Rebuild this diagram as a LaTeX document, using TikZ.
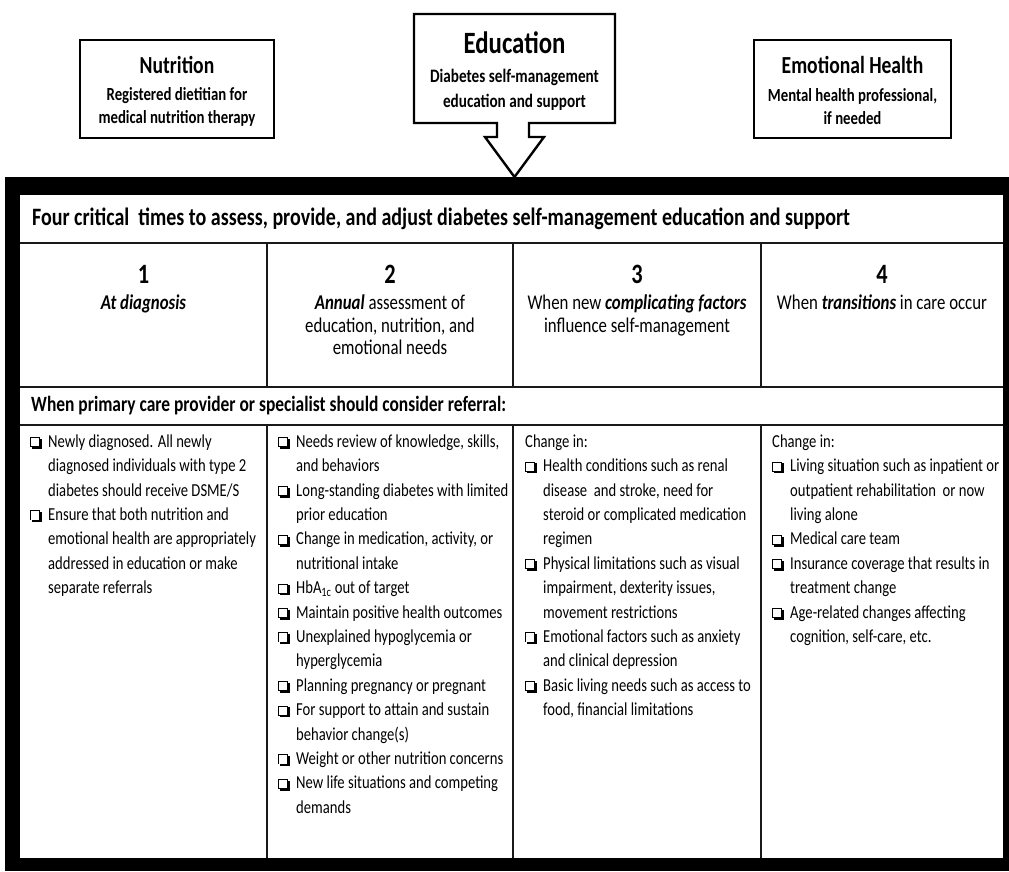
\documentclass[tikz,border=0pt]{standalone}
\usepackage{fontspec}
\setmainfont[FakeStretch=0.8]{Carlito}
% shadowed check box that opens each reason, and the indent of continuation lines
\newcommand\cbx{\makebox[18pt][l]{%
  \rlap{\hspace{1.7pt}\rule[-1.7pt]{10pt}{10pt}}%
  \rlap{\rule{10pt}{10pt}}%
  \rlap{\hspace{0.9pt}\raisebox{0.9pt}{\textcolor{white}{\rule{8.2pt}{8.2pt}}}}}}
\newcommand\ind{\hspace*{18pt}}
\newcommand\bi[1]{\textbf{\textit{#1}}}
\begin{document}
\begin{tikzpicture}[x=1pt,y=-1pt,
  boxline/.style={draw=black, line width=2.4pt, fill=white, line join=miter},
  gridline/.style={draw=black!90, line width=1.4pt},
  boxtitle/.style={inner sep=0pt, align=center, font=\bfseries\fontsize{24.5}{28}\selectfont},
  bigtitle/.style={inner sep=0pt, align=center, font=\bfseries\fontsize{31}{34}\selectfont},
  boxsub/.style={inner sep=0pt, align=center, font=\bfseries\fontsize{18.5}{23}\selectfont},
  rowhead/.style={anchor=west, inner sep=0pt, font=\bfseries\fontsize{25}{28}\selectfont},
  subhead/.style={anchor=west, inner sep=0pt, font=\bfseries\fontsize{21.8}{24}\selectfont},
  digit/.style={inner sep=0pt, font=\bfseries\fontsize{28}{30}\selectfont},
  when/.style={anchor=north, inner sep=0pt, align=center, font=\fontsize{21}{22.5}\selectfont},
  body/.style={anchor=north west, inner sep=0pt, align=left, font=\fontsize{18.3}{24.4}\selectfont}]
\useasboundingbox (0,0) rectangle (1009,871);
\fill[white] (0,0) rectangle (1009,871);

% three resources above the table
\draw[boxline] (80,40) rectangle (274,138);
\node[boxtitle] (nut) at (177,65) {Nutrition};
\node[boxsub] (nutsub) at (177,107) {Registered dietitian for\\medical nutrition therapy};

\draw[boxline] (414,14) -- (615,14) -- (615,123) -- (529,123) -- (529,137) -- (544,137)
  -- (514.5,177) -- (485,137) -- (497,137) -- (497,123) -- (414,123) -- cycle;
\node[bigtitle] (edu) at (514.5,43) {Education};
\node[boxsub, font=\bfseries\fontsize{19}{25}\selectfont] (edusub) at (514.5,90)
  {Diabetes self-management\\education and support};

\draw[boxline] (754,40) rectangle (951,138);
\node[boxtitle] (emo) at (852.5,65) {Emotional Health};
\node[boxsub] (emosub) at (852.5,107) {Mental health professional,\\if needed};

% heavy frame of the table
\fill[black] (5,177) rectangle (1009,871);
\fill[white] (20,195) rectangle (1003,858);

% rules of the table
\draw[gridline] (20,243) -- (1003,243);
\draw[gridline] (20,387) -- (1003,387);
\draw[gridline] (20,425) -- (1003,425);
\foreach \x in {267,513,761} {
  \draw[gridline] (\x,243) -- (\x,387);
  \draw[gridline] (\x,425) -- (\x,858);
}

\node[rowhead] (four) at (32,219)
  {Four critical~ times to assess, provide, and adjust diabetes self-management education and support};

% the four critical times
\node[digit] (d1) at (143.5,274) {1};
\node[digit] (d2) at (390,274) {2};
\node[digit] (d3) at (637,274) {3};
\node[digit] (d4) at (882,274) {4};
\node[when] (w1) at (143.5,294) {\strut\bi{At diagnosis}};
\node[when] (w2) at (390,294) {\strut\bi{Annual} assessment of\\education, nutrition, and\\emotional needs};
\node[when] (w3) at (637,294) {\strut When new \bi{complicating factors}\\influence self-management};
\node[when] (w4) at (882,294) {\strut When \bi{transitions} in care occur};

\node[subhead] (ref) at (31,406) {When primary care provider or specialist should consider referral:};

% referral reasons
\node[body] (c1) at (30,430) {\strut\cbx Newly diagnosed. All newly\\
\ind diagnosed individuals with type 2\\
\ind diabetes should receive DSME/S\\
\cbx Ensure that both nutrition and\\
\ind emotional health are appropriately\\
\ind addressed in education or make\\
\ind separate referrals};

\node[body] (c2) at (278,430) {\strut\cbx Needs review of knowledge, skills,\\
\ind and behaviors\\
\cbx Long-standing diabetes with limited\\
\ind prior education\\
\cbx Change in medication, activity, or\\
\ind nutritional intake\\
\cbx HbA\textsubscript{1c} out of target\\
\cbx Maintain positive health outcomes\\
\cbx Unexplained hypoglycemia or\\
\ind hyperglycemia\\
\cbx Planning pregnancy or pregnant\\
\cbx For support to attain and sustain\\
\ind behavior change(s)\\
\cbx Weight or other nutrition concerns\\
\cbx New life situations and competing\\
\ind demands};

\node[body] (c3) at (525,430) {\strut Change in:\\
\cbx Health conditions such as renal\\
\ind disease~ and stroke, need for\\
\ind steroid or complicated medication\\
\ind regimen\\
\cbx Physical limitations such as visual\\
\ind impairment, dexterity issues,\\
\ind movement restrictions\\
\cbx Emotional factors such as anxiety\\
\ind and clinical depression\\
\cbx Basic living needs such as access to\\
\ind food, financial limitations};

\node[body] (c4) at (772,430) {\strut Change in:\\
\cbx Living situation such as inpatient or\\
\ind outpatient rehabilitation~ or now\\
\ind living alone\\
\cbx Medical care team\\
\cbx Insurance coverage that results in\\
\ind treatment change\\
\cbx Age-related changes affecting\\
\ind cognition, self-care, etc.};
\end{tikzpicture}
\end{document}
